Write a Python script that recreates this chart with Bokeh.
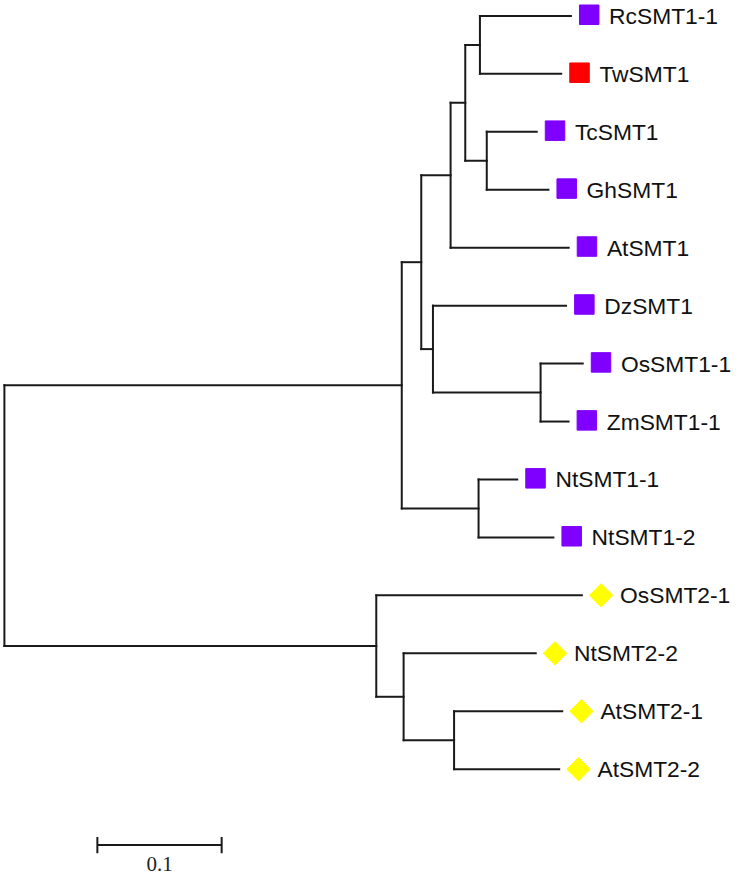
from bokeh.plotting import figure
from bokeh.models import Range1d
from bokeh.embed import file_html
from bokeh.resources import INLINE
from bokeh.core.properties import value
import numpy as np

# ---------------- data ----------------
leaf_names = ["RcSMT1-1", "TwSMT1", "TcSMT1", "GhSMT1", "AtSMT1", "DzSMT1",
              "OsSMT1-1", "ZmSMT1-1", "NtSMT1-1", "NtSMT1-2",
              "OsSMT2-1", "NtSMT2-2", "AtSMT2-1", "AtSMT2-2"]
leaf_colors = ["#7F00FF", "#FF0000", "#7F00FF", "#7F00FF", "#7F00FF", "#7F00FF",
               "#7F00FF", "#7F00FF", "#7F00FF", "#7F00FF",
               "#FFFF00", "#FFFF00", "#FFFF00", "#FFFF00"]
leaf_markers = ["square"] * 10 + ["diamond"] * 4

# tree edges: child, parent, branch length
edge_child = ["n_smt1", "n_smt2", "n_a", "n_nt1", "n_b", "n_dz", "n_c", "AtSMT1",
              "n_rctw", "n_tcgh", "RcSMT1-1", "TwSMT1", "TcSMT1", "GhSMT1",
              "DzSMT1", "n_oszm", "OsSMT1-1", "ZmSMT1-1", "NtSMT1-1", "NtSMT1-2",
              "OsSMT2-1", "n_d", "NtSMT2-2", "n_at2", "AtSMT2-1", "AtSMT2-2"]
edge_parent = ["root", "root", "n_smt1", "n_smt1", "n_a", "n_a", "n_b", "n_b",
               "n_c", "n_c", "n_rctw", "n_rctw", "n_tcgh", "n_tcgh",
               "n_dz", "n_dz", "n_oszm", "n_oszm", "n_nt1", "n_nt1",
               "n_smt2", "n_smt2", "n_d", "n_d", "n_at2", "n_at2"]
branch_len = [0.3197, 0.2992, 0.0157, 0.0618, 0.0236, 0.0094, 0.0118, 0.0950,
              0.0118, 0.0173, 0.0732, 0.0654, 0.0402, 0.0496,
              0.1071, 0.0866, 0.0339, 0.0225, 0.0311, 0.0602,
              0.1654, 0.0220, 0.1063, 0.0406, 0.0870, 0.0846]

scale_value = 0.1
scale_label = "0.1"

# ---------------- layout computation ----------------
depth = {"root": 0.0}
for c, par, L in zip(edge_child, edge_parent, branch_len):
    depth[c] = depth[par] + L

children = {}
for c, par in zip(edge_child, edge_parent):
    children.setdefault(par, []).append(c)

ypos = {n: i for i, n in enumerate(leaf_names)}

def get_y(n):
    if n in ypos:
        return ypos[n]
    ys = [get_y(ch) for ch in children[n]]
    ypos[n] = (min(ys) + max(ys)) / 2.0
    return ypos[n]

get_y("root")

hx0, hx1, hy = [], [], []
for c, par in zip(edge_child, edge_parent):
    hx0.append(depth[par]); hx1.append(depth[c]); hy.append(ypos[c])
vx, vy0, vy1 = [], [], []
for n, chs in children.items():
    ys = [ypos[ch] for ch in chs]
    vx.append(depth[n]); vy0.append(min(ys)); vy1.append(max(ys))

PX = 1242.9      # pixels per unit of branch length
W, H = 734, 879
ROW = 57.945     # pixels per leaf row
x0 = -3.9 / PX
y_top = -15.42 / ROW
p = figure(width=W, height=H, output_backend="svg", toolbar_location=None,
           x_range=Range1d(x0, x0 + W / PX),
           y_range=Range1d(y_top + H / ROW, y_top),
           min_border=0, min_border_left=0, min_border_right=0,
           min_border_top=0, min_border_bottom=0)
p.axis.visible = False
p.grid.visible = False
p.outline_line_color = None
p.background_fill_color = "white"

lc = "#1a1a1a"
p.segment(hx0, hy, hx1, hy, line_color=lc, line_width=2, line_cap="square")
p.segment(vx, vy0, vx, vy1, line_color=lc, line_width=2, line_cap="square")

leaf_x = [depth[n] for n in leaf_names]
leaf_y = [ypos[n] for n in leaf_names]
mk_off = 18.3 / PX
tx_off = 38.2 / PX

sq = [i for i, m in enumerate(leaf_markers) if m == "square"]
dm = [i for i, m in enumerate(leaf_markers) if m == "diamond"]
p.scatter([leaf_x[i] + mk_off for i in sq], [leaf_y[i] - 0.02 for i in sq], marker="square",
          size=19.5, fill_color=[leaf_colors[i] for i in sq],
          line_color=[leaf_colors[i] for i in sq], line_width=1)
p.scatter([leaf_x[i] + mk_off + 1.0 / PX for i in dm], [leaf_y[i] for i in dm], marker="square",
          angle=np.pi / 4, size=16.5, fill_color=[leaf_colors[i] for i in dm],
          line_color=[leaf_colors[i] for i in dm], line_width=1)

p.text([x + tx_off for x in leaf_x], leaf_y, text=leaf_names,
       text_font=value("Liberation Sans"), text_font_size="22.8px",
       text_baseline="middle", text_align="left", text_color="#111111")

# scale bar
n = len(leaf_names)
sb_x = 0.0748
sb_y = n - 1 + 1.31
tick = 8.2 / ROW
p.segment([sb_x], [sb_y], [sb_x + scale_value], [sb_y], line_color=lc, line_width=2)
p.segment([sb_x, sb_x + scale_value], [sb_y - tick, sb_y - tick],
          [sb_x, sb_x + scale_value], [sb_y + tick, sb_y + tick],
          line_color=lc, line_width=2)
p.text([sb_x + scale_value / 2], [sb_y + 0.33], text=[scale_label],
       text_font=value("Liberation Serif"), text_font_size="21px",
       text_baseline="middle", text_align="center", text_color="#222222")

open("out.html", "w").write(file_html(p, INLINE))
